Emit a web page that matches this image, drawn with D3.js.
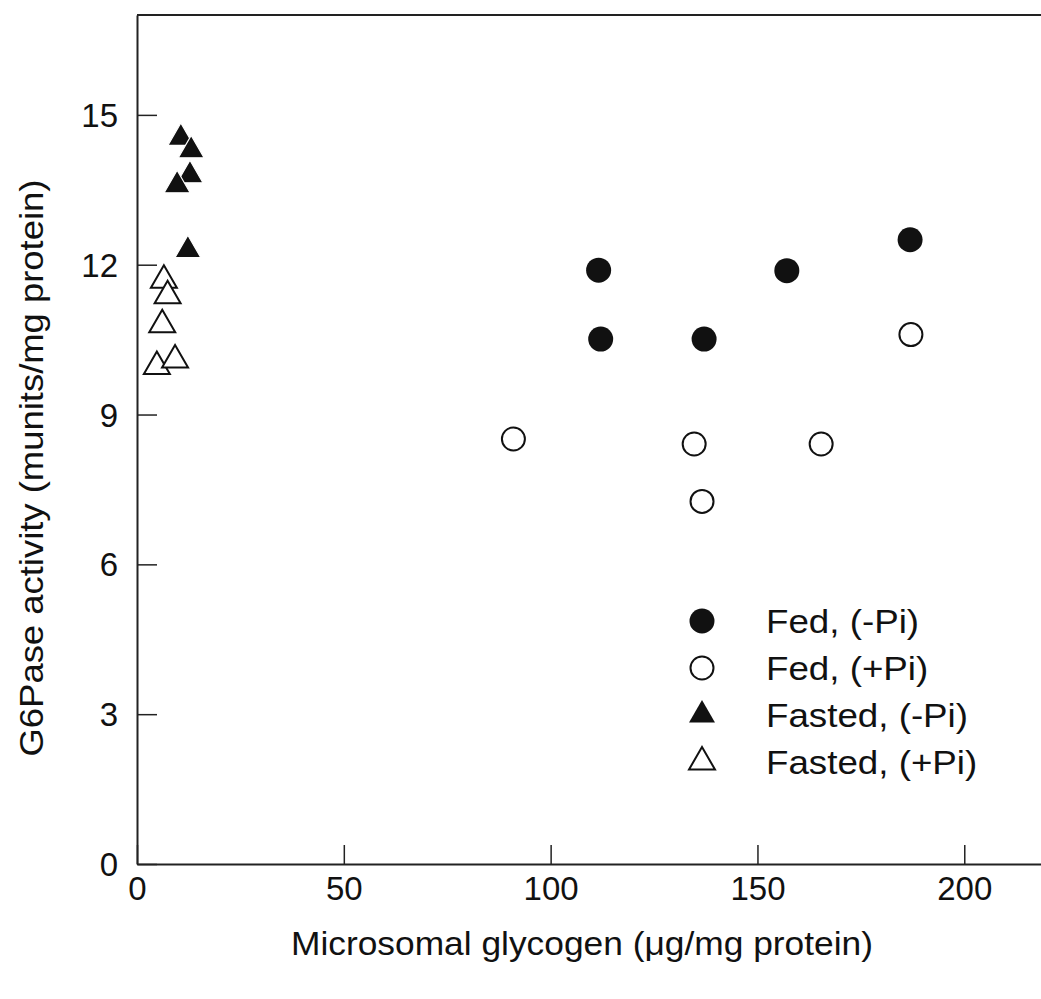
<!DOCTYPE html>
<html>
<head>
<meta charset="utf-8">
<script src="https://cdn.jsdelivr.net/npm/d3@7"></script>
<style>
  html, body { margin: 0; padding: 0; background: #fff; }
  svg { display: block; }
  text { font-family: "Liberation Sans", Arial, sans-serif; fill: #111; }
</style>
</head>
<body>
<svg id="chart" width="1041" height="999"></svg>
<script>
// Microsomal glycogen (µg/mg protein) vs G6Pase activity (munits/mg protein)
const fedMinusPiX = [111.6, 157.1, 186.9, 112.1, 137.1];
const fedMinusPiY = [11.89, 11.88, 12.50, 10.51, 10.51];

const fedPlusPiX = [187.1, 91.0, 134.7, 165.4, 136.6];
const fedPlusPiY = [10.60, 8.51, 8.41, 8.41, 7.26];

const fastedMinusPiX = [10.6, 13.1, 12.8, 9.7, 12.3];
const fastedMinusPiY = [14.54, 14.29, 13.79, 13.59, 12.29];

const fastedPlusPiX = [6.5, 7.4, 6.1, 4.8, 9.2];
const fastedPlusPiY = [11.69, 11.38, 10.80, 9.96, 10.09];

const xTicks = [0, 50, 100, 150, 200];
const yTicks = [0, 3, 6, 9, 12, 15];

const seriesNames = ["Fed, (-Pi)", "Fed, (+Pi)", "Fasted, (-Pi)", "Fasted, (+Pi)"];
const xTitle = "Microsomal glycogen (\u03BCg/mg protein)";
const yTitle = "G6Pase activity (munits/mg protein)";

const svg = d3.select("#chart");
const ink = "#111";

const plotLeft = 137, plotRight = 1047, plotTop = 15, plotBottom = 864;
const x = d3.scaleLinear().domain([0, 220]).range([plotLeft, plotRight]);
const y = d3.scaleLinear().domain([0, 17]).range([plotBottom, plotTop]);

// Frame: top line (left and bottom come from the axes)
svg.append("line").attr("x1", plotLeft).attr("x2", 1041).attr("y1", plotTop).attr("y2", plotTop)
  .attr("stroke", "#222").attr("stroke-width", 2);

const xAxis = svg.append("g").attr("transform", `translate(0,${plotBottom})`)
  .call(d3.axisBottom(x).tickValues(xTicks).tickSizeInner(-19).tickSizeOuter(0).tickPadding(13));
const yAxis = svg.append("g").attr("transform", `translate(${plotLeft},0)`)
  .call(d3.axisLeft(y).tickValues(yTicks).tickSizeInner(-20).tickSizeOuter(0).tickPadding(19));

[xAxis, yAxis].forEach(g => {
  g.select(".domain").attr("stroke", "#222").attr("stroke-width", 2);
  g.selectAll(".tick line").attr("stroke", "#222").attr("stroke-width", 1.5);
  g.selectAll(".tick text").attr("fill", ink)
    .style("font-family", '"Liberation Sans", Arial, sans-serif')
    .style("font-size", "33px");
});
xAxis.selectAll(".tick text").attr("dy", "0.71em");
yAxis.selectAll(".tick text").attr("dy", "0.35em");

// Axis titles
svg.append("text").attr("x", 582).attr("y", 955).attr("text-anchor", "middle")
  .style("font-size", "34px").attr("textLength", 582).attr("lengthAdjust", "spacingAndGlyphs")
  .text(xTitle);
svg.append("text").attr("transform", "translate(43,468) rotate(-90)")
  .attr("text-anchor", "middle").style("font-size", "34px")
  .attr("textLength", 577).attr("lengthAdjust", "spacingAndGlyphs").text(yTitle);

// Marker shapes
const triSize = 292;
const tri = d3.symbol().type(d3.symbolTriangle).size(triSize);

const pts = (xs, ys) => xs.map((v, i) => ({ x: v, y: ys[i] }));
const plot = svg.append("g");

plot.selectAll("circle.fedMinus").data(pts(fedMinusPiX, fedMinusPiY)).join("circle")
  .attr("class", "fedMinus").attr("cx", d => x(d.x)).attr("cy", d => y(d.y))
  .attr("r", 12.5).attr("fill", ink);

plot.selectAll("circle.fedPlus").data(pts(fedPlusPiX, fedPlusPiY)).join("circle")
  .attr("class", "fedPlus").attr("cx", d => x(d.x)).attr("cy", d => y(d.y))
  .attr("r", 11.5).attr("fill", "#fff").attr("stroke", ink).attr("stroke-width", 2);

plot.selectAll("path.fastedMinus").data(pts(fastedMinusPiX, fastedMinusPiY)).join("path")
  .attr("class", "fastedMinus").attr("d", tri)
  .attr("transform", d => `translate(${x(d.x)},${y(d.y)})`)
  .attr("fill", ink).attr("stroke", "#fff").attr("stroke-width", 1.2);

plot.selectAll("path.fastedPlus").data(pts(fastedPlusPiX, fastedPlusPiY)).join("path")
  .attr("class", "fastedPlus").attr("d", tri)
  .attr("transform", d => `translate(${x(d.x)},${y(d.y)})`)
  .attr("fill", "#fff").attr("stroke", ink).attr("stroke-width", 2);

// Legend (labels set slightly wide)
const legendRows = [621, 668, 715, 762];
const legendStretch = 1.08;
const legend = svg.append("g");
seriesNames.forEach((name, i) => {
  const cy = legendRows[i], cx = 702;
  if (i === 0) legend.append("circle").attr("cx", cx).attr("cy", cy).attr("r", 12.5).attr("fill", ink);
  if (i === 1) legend.append("circle").attr("cx", cx).attr("cy", cy).attr("r", 11.5)
    .attr("fill", "#fff").attr("stroke", ink).attr("stroke-width", 2);
  if (i === 2) legend.append("path").attr("d", tri).attr("transform", `translate(${cx},${cy})`).attr("fill", ink);
  if (i === 3) legend.append("path").attr("d", tri).attr("transform", `translate(${cx},${cy})`)
    .attr("fill", "#fff").attr("stroke", ink).attr("stroke-width", 2);
  const t = legend.append("text").attr("x", 766).attr("y", cy).attr("dy", "0.35em")
    .style("font-size", "34px").text(name);
  const w = t.node().getComputedTextLength();
  t.attr("textLength", w * legendStretch).attr("lengthAdjust", "spacingAndGlyphs");
});
</script>
</body>
</html>
